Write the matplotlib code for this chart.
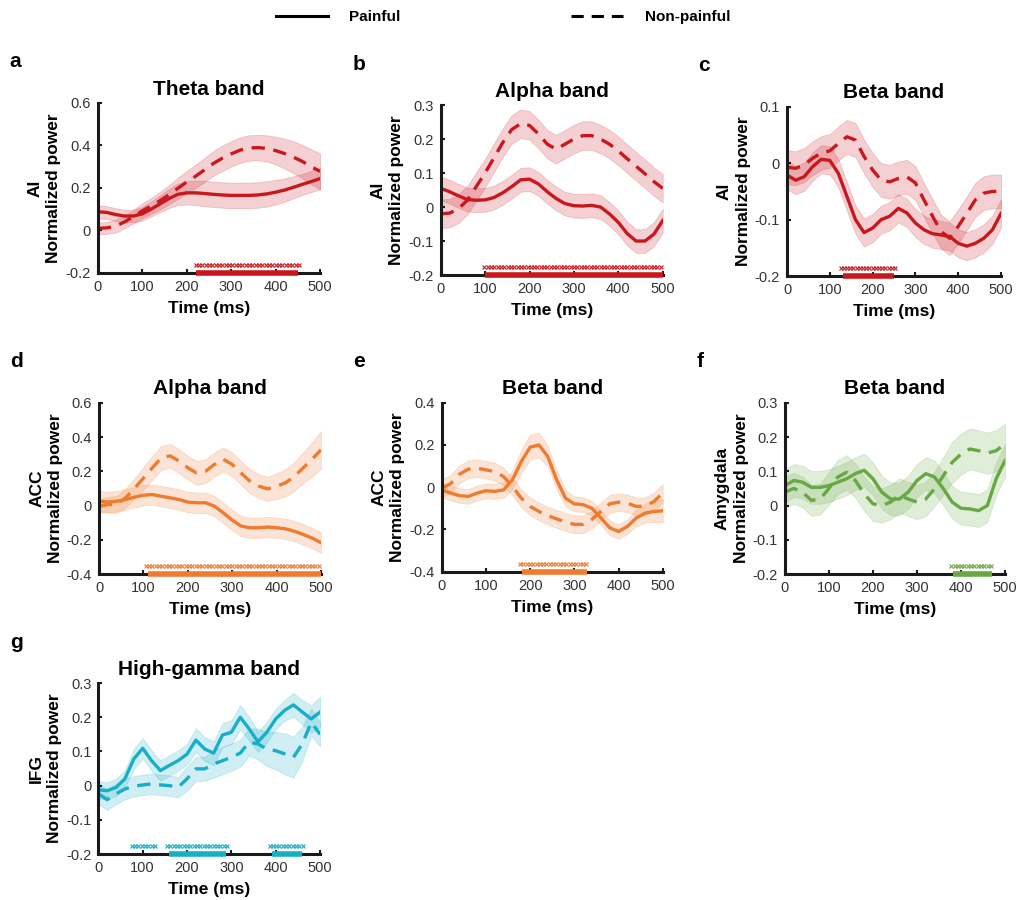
import numpy as np
import matplotlib
matplotlib.use('Agg')
import matplotlib.pyplot as plt
from matplotlib.lines import Line2D

plt.rcParams['font.family'] = ['Liberation Sans', 'DejaVu Sans']

# time axis (ms), one sample every 20 ms
t = np.arange(0, 501, 20)

# a: AI theta
a_pain = [0.088, 0.085, 0.075, 0.068, 0.068, 0.078, 0.1, 0.125, 0.15, 0.17, 0.177, 0.177, 0.174,
          0.17, 0.167, 0.165, 0.165, 0.165, 0.167, 0.172, 0.18, 0.19, 0.203, 0.217, 0.23, 0.244]
a_pain_sem = [0.03, 0.03, 0.03, 0.03, 0.03, 0.032, 0.035, 0.04, 0.045, 0.05, 0.055, 0.058, 0.06,
              0.06, 0.06, 0.06, 0.06, 0.06, 0.06, 0.06, 0.058, 0.055, 0.052, 0.05, 0.05, 0.05]
a_non = [0.01, 0.012, 0.02, 0.04, 0.065, 0.092, 0.115, 0.14, 0.168, 0.198, 0.228, 0.255, 0.285,
         0.315, 0.34, 0.36, 0.378, 0.388, 0.39, 0.386, 0.376, 0.362, 0.345, 0.325, 0.3, 0.278]
a_non_sem = [0.028, 0.028, 0.03, 0.03, 0.032, 0.035, 0.038, 0.042, 0.045, 0.05, 0.052, 0.055, 0.057,
             0.058, 0.06, 0.06, 0.06, 0.06, 0.06, 0.062, 0.065, 0.07, 0.075, 0.078, 0.082, 0.085]

# b: AI alpha
b_pain = [0.055, 0.045, 0.033, 0.022, 0.02, 0.021, 0.028, 0.042, 0.06, 0.08, 0.082, 0.068, 0.045,
          0.025, 0.01, 0.004, 0.003, 0.005, 0.0, -0.02, -0.045, -0.078, -0.1, -0.1, -0.08, -0.04]
b_pain_sem = 0.035
b_non = [-0.02, -0.018, -0.005, 0.02, 0.06, 0.1, 0.145, 0.19, 0.228, 0.245, 0.24, 0.215, 0.185,
         0.17, 0.185, 0.2, 0.21, 0.21, 0.2, 0.185, 0.165, 0.142, 0.12, 0.098, 0.075, 0.055]
b_non_sem = 0.042

# c: AI beta
c_pain = [-0.021, -0.03, -0.024, -0.006, 0.007, 0.005, -0.018, -0.059, -0.1, -0.123, -0.115, -0.1,
          -0.094, -0.08, -0.088, -0.106, -0.118, -0.125, -0.127, -0.13, -0.142, -0.147, -0.142,
          -0.133, -0.118, -0.089]
c_pain_sem = 0.025
c_non = [-0.007, -0.009, -0.003, 0.009, 0.018, 0.022, 0.035, 0.047, 0.041, 0.012, -0.012, -0.03,
         -0.033, -0.027, -0.024, -0.035, -0.065, -0.094, -0.121, -0.133, -0.112, -0.089, -0.065,
         -0.053, -0.05, -0.05]
c_non_sem = 0.03

# d: ACC alpha
d_pain = [0.025, 0.02, 0.025, 0.035, 0.049, 0.06, 0.064, 0.054, 0.045, 0.035, 0.02, 0.016, 0.016,
          -0.004, -0.043, -0.085, -0.12, -0.13, -0.13, -0.126, -0.13, -0.136, -0.15, -0.169, -0.19, -0.217]
d_pain_sem = 0.06
d_non = [-0.004, 0.006, 0.006, 0.045, 0.1, 0.16, 0.22, 0.278, 0.29, 0.26, 0.22, 0.19, 0.2,
         0.24, 0.27, 0.24, 0.19, 0.142, 0.113, 0.097, 0.113, 0.132, 0.17, 0.22, 0.27, 0.325]
d_non_sem = [0.04, 0.045, 0.05, 0.055, 0.06, 0.065, 0.07, 0.07, 0.07, 0.07, 0.07, 0.07, 0.07,
             0.07, 0.07, 0.07, 0.07, 0.07, 0.07, 0.07, 0.075, 0.08, 0.085, 0.09, 0.1, 0.11]

# e: ACC beta
e_pain = [-0.013, -0.028, -0.04, -0.044, -0.028, -0.017, -0.02, -0.013, 0.035, 0.121, 0.189, 0.2,
          0.145, 0.035, -0.052, -0.079, -0.083, -0.1, -0.145, -0.192, -0.21, -0.186, -0.146,
          -0.123, -0.115, -0.112]
e_pain_sem = [0.035, 0.035, 0.035, 0.035, 0.035, 0.035, 0.035, 0.038, 0.045, 0.055, 0.06, 0.058,
              0.05, 0.045, 0.04, 0.035, 0.035, 0.035, 0.035, 0.035, 0.035, 0.035, 0.04, 0.045, 0.05, 0.055]
e_non = [-0.005, 0.016, 0.061, 0.085, 0.09, 0.082, 0.074, 0.05, 0.003, -0.052, -0.091, -0.115,
         -0.135, -0.15, -0.165, -0.176, -0.176, -0.152, -0.115, -0.079, -0.071, -0.076, -0.091,
         -0.091, -0.068, -0.028]
e_non_sem = 0.042

# f: amygdala beta
f_pain = [0.058, 0.073, 0.068, 0.053, 0.053, 0.058, 0.068, 0.078, 0.093, 0.103, 0.078, 0.039, 0.019,
          0.019, 0.039, 0.073, 0.093, 0.083, 0.049, 0.01, -0.008, -0.01, -0.015, 0.0, 0.078, 0.131]
f_pain_sem = 0.048
f_non = [0.039, 0.05, 0.039, 0.015, 0.019, 0.05, 0.083, 0.097, 0.073, 0.034, 0.005, 0.0, 0.01,
         0.029, 0.019, 0.01, 0.019, 0.049, 0.087, 0.126, 0.15, 0.165, 0.16, 0.153, 0.16, 0.18]
f_non_sem = [0.045, 0.045, 0.045, 0.045, 0.045, 0.048, 0.05, 0.05, 0.05, 0.05, 0.05, 0.05, 0.05,
             0.05, 0.05, 0.05, 0.05, 0.05, 0.055, 0.06, 0.06, 0.06, 0.06, 0.06, 0.06, 0.06]

# g: IFG high-gamma
g_pain = [-0.012, -0.015, -0.005, 0.02, 0.078, 0.109, 0.073, 0.044, 0.059, 0.073, 0.092, 0.133, 0.107,
          0.095, 0.148, 0.156, 0.2, 0.166, 0.128, 0.156, 0.195, 0.22, 0.236, 0.215, 0.195, 0.215]
g_pain_sem = [0.025, 0.025, 0.025, 0.025, 0.03, 0.03, 0.03, 0.03, 0.03, 0.03, 0.03, 0.035, 0.035,
              0.035, 0.035, 0.035, 0.035, 0.035, 0.03, 0.03, 0.03, 0.03, 0.035, 0.035, 0.04, 0.045]
g_non = [-0.024, -0.041, -0.024, -0.01, -0.002, 0.002, 0.005, 0.002, 0.0, -0.005, 0.02, 0.049, 0.049,
         0.063, 0.073, 0.083, 0.095, 0.127, 0.122, 0.107, 0.102, 0.093, 0.083, 0.122, 0.185, 0.15]
g_non_sem = [0.03, 0.03, 0.03, 0.03, 0.03, 0.03, 0.03, 0.03, 0.03, 0.03, 0.035, 0.035, 0.035,
             0.04, 0.04, 0.04, 0.04, 0.04, 0.045, 0.05, 0.055, 0.06, 0.06, 0.05, 0.04, 0.035]

# significant windows (ms): crosses row and bar on the axis
a_cross = [(220, 455)]; a_bar = [(222, 450)]
b_cross = [(98, 500)]; b_bar = [(100, 500)]
c_cross = [(125, 253)]; c_bar = [(130, 249)]
d_cross = [(105, 500)]; d_bar = [(110, 500)]
e_cross = [(177, 333)]; e_bar = [(181, 329)]
f_cross = [(378, 474)]; f_bar = [(383, 470)]
g_cross = [(75, 133), (155, 294), (386, 464)]; g_bar = [(160, 289), (391, 459)]

red = '#C8181E'
orange = '#EF7B2F'
green = '#68A843'
cyan = '#17AEC8'

panels = [
    ('a', 'Theta band', 'AI', a_pain, a_pain_sem, a_non, a_non_sem, a_cross, a_bar, red,
     (-0.2, 0.6), [-0.2, 0, 0.2, 0.4, 0.6], [0.0960, 0.6967, 0.2184, 0.1889]),
    ('b', 'Alpha band', 'AI', b_pain, b_pain_sem, b_non, b_non_sem, b_cross, b_bar, red,
     (-0.2, 0.3), [-0.2, -0.1, 0, 0.1, 0.2, 0.3], [0.4329, 0.6944, 0.2181, 0.1889]),
    ('c', 'Beta band', 'AI', c_pain, c_pain_sem, c_non, c_non_sem, c_cross, c_bar, red,
     (-0.2, 0.1), [-0.2, -0.1, 0, 0.1], [0.7731, 0.6933, 0.2102, 0.1880]),
    ('d', 'Alpha band', 'ACC', d_pain, d_pain_sem, d_non, d_non_sem, d_cross, d_bar, orange,
     (-0.4, 0.6), [-0.4, -0.2, 0, 0.2, 0.4, 0.6], [0.0973, 0.3622, 0.2180, 0.1903]),
    ('e', 'Beta band', 'ACC', e_pain, e_pain_sem, e_non, e_non_sem, e_cross, e_bar, orange,
     (-0.4, 0.4), [-0.4, -0.2, 0, 0.2, 0.4], [0.4339, 0.3648, 0.2171, 0.1878]),
    ('f', 'Beta band', 'Amygdala', f_pain, f_pain_sem, f_non, f_non_sem, f_cross, f_bar, green,
     (-0.2, 0.3), [-0.2, -0.1, 0, 0.1, 0.2, 0.3], [0.7711, 0.3622, 0.2161, 0.1903]),
    ('g', 'High-gamma band', 'IFG', g_pain, g_pain_sem, g_non, g_non_sem, g_cross, g_bar, cyan,
     (-0.2, 0.3), [-0.2, -0.1, 0, 0.1, 0.2, 0.3], [0.0966, 0.0511, 0.2178, 0.1900]),
]

fig = plt.figure(figsize=(10.18, 9), dpi=100)

for letter, title, region, pain, pain_sem, non, non_sem, crosses, bars, col, ylim, yticks, pos in panels:
    ax = fig.add_axes(pos)
    pain = np.array(pain)
    non = np.array(non)
    ps = np.broadcast_to(pain_sem, pain.shape)
    ns = np.broadcast_to(non_sem, non.shape)

    ax.fill_between(t, non - ns, non + ns, color=col, alpha=0.2, lw=0.6, edgecolor=col)
    ax.fill_between(t, pain - ps, pain + ps, color=col, alpha=0.2, lw=0.6, edgecolor=col)
    ax.plot(t, non, color=col, lw=2.4, dashes=(4, 2.6))
    ax.plot(t, pain, color=col, lw=2.4)

    # significance markers
    trans = ax.get_xaxis_transform()
    for s, e in crosses:
        xs = np.arange(s, e + 0.1, 7.5)
        ax.plot(xs, np.full(len(xs), 0.045), 'x', color=col, ms=3.5, mew=0.8,
                transform=trans, clip_on=False)
    for s, e in bars:
        ax.plot([s, e], [0, 0], color=col, lw=4, solid_capstyle='butt',
                transform=trans, clip_on=False, zorder=5)

    ax.set_xlim(0, 500)
    ax.set_ylim(*ylim)
    ax.set_xticks([0, 100, 200, 300, 400, 500])
    ax.set_yticks(yticks)
    ax.set_yticklabels(['0' if v == 0 else f'{v:g}' for v in yticks])
    for sp in ['top', 'right']:
        ax.spines[sp].set_visible(False)
    for sp in ['left', 'bottom']:
        ax.spines[sp].set_linewidth(2.2)
        ax.spines[sp].set_color('#1a1a1a')
    ax.tick_params(direction='in', length=3, width=1.5, labelsize=10.5, colors='#1a1a1a',
                   labelcolor='#333333', pad=5)
    ax.set_title(title, fontsize=15, fontweight='bold', pad=6)
    ax.set_xlabel('Time (ms)', fontsize=12.5, fontweight='bold', labelpad=5)
    ax.set_ylabel(region + '\nNormalized power', fontsize=12.5, fontweight='bold', labelpad=3,
                  linespacing=1.3)

    # panel letter
    bb = ax.get_position()
    fig.text(bb.x0 - 0.087, bb.y1 + 0.035, letter, fontsize=15, fontweight='bold',
             ha='left', va='bottom')

handles = [Line2D([], [], color='black', lw=2.2),
           Line2D([], [], color='black', lw=2.2, dashes=(4, 2.6))]
fig.legend(handles, ['Painful', 'Non-painful'], loc='center', bbox_to_anchor=(0.494, 0.981),
           ncol=2, frameon=False, handlelength=3.4, handletextpad=1.4, columnspacing=11.2,
           prop={'size': 11, 'weight': 'bold'})

fig.savefig('out.png', dpi=100)
